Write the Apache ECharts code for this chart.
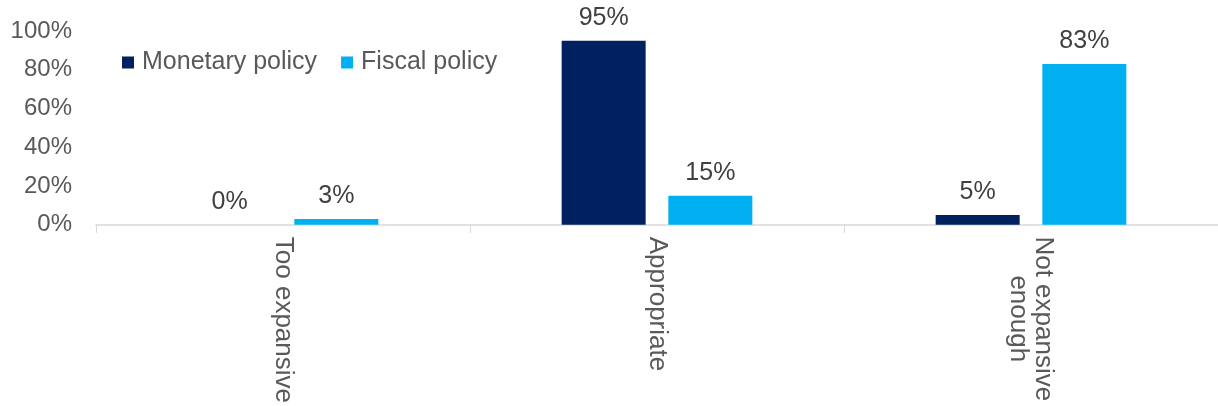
<!DOCTYPE html>
<html>
<head>
<meta charset="utf-8">
<script src="https://cdn.jsdelivr.net/npm/echarts@6/dist/echarts.min.js"></script>
<style>
  html, body { margin: 0; padding: 0; background: #fff; }
  #chart { width: 1218px; height: 406px; }
</style>
</head>
<body>
<div id="chart"></div>
<script>
const categories = ['Too expansive', 'Appropriate', 'Not expansive\nenough']
const monetary = [0, 95, 5]
const fiscal = [3, 15, 83]
const yTicks = [0, 20, 40, 60, 80, 100]

const font = '"Liberation Sans", Arial, sans-serif'
const chart = echarts.init(document.getElementById('chart'))

const barLabel = {
  show: true,
  position: 'top',
  distance: 10,
  formatter: (p) => p.value + '%',
  color: '#404040',
  fontSize: 25,
  fontFamily: font
}

chart.setOption({
  animation: false,
  grid: { left: 96, right: 0, top: 31, bottom: 178 },
  legend: {
    left: 117,
    top: 45,
    itemWidth: 12,
    itemHeight: 12,
    itemGap: 24,
    icon: 'rect',
    textStyle: { color: '#595959', fontSize: 25, fontFamily: font, padding: [0, 0, 0, 3] },
    data: ['Monetary policy', 'Fiscal policy']
  },
  xAxis: {
    type: 'category',
    data: categories,
    axisLine: { lineStyle: { color: '#d9d9d9', width: 1.5 } },
    axisTick: { show: true, length: 8, lineStyle: { color: '#d9d9d9' } },
    axisLabel: {
      rotate: -90,
      margin: 12,
      color: '#595959',
      fontSize: 26,
      fontFamily: font,
      lineHeight: 25,
      formatter: (v) => v.includes('\n') ? v.split('\n').map((s) => '{c|' + s + '}').join('\n') : v,
      rich: {
        c: { width: 164, align: 'center', color: '#595959', fontSize: 26, fontFamily: font, lineHeight: 25 }
      }
    }
  },
  yAxis: {
    type: 'value',
    min: yTicks[0],
    max: yTicks[yTicks.length - 1],
    interval: 20,
    splitLine: { show: false },
    axisLine: { show: false },
    axisTick: { show: false },
    axisLabel: {
      margin: 24,
      color: '#595959',
      fontSize: 24,
      fontFamily: font,
      formatter: (v) => v + '%'
    }
  },
  series: [
    {
      name: 'Monetary policy',
      type: 'bar',
      data: monetary,
      barWidth: 84,
      barGap: '27%',
      itemStyle: { color: '#002060' },
      label: barLabel
    },
    {
      name: 'Fiscal policy',
      type: 'bar',
      data: fiscal,
      barWidth: 84,
      itemStyle: { color: '#00B0F0' },
      label: barLabel
    }
  ]
})
</script>
</body>
</html>
